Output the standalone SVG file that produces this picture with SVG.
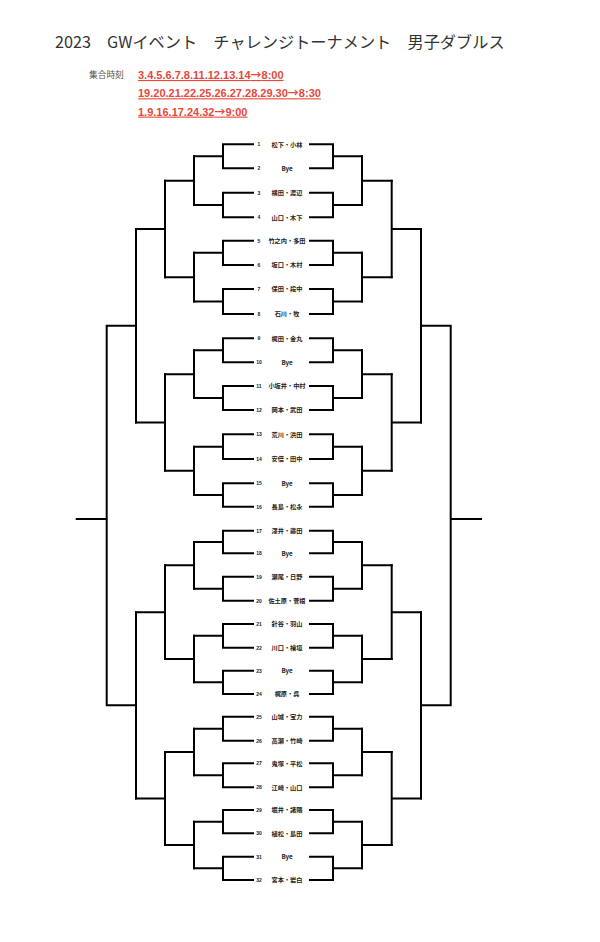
<svg xmlns="http://www.w3.org/2000/svg" width="600" height="942" viewBox="0 0 600 942">
<style>
.bg{fill:#fff}
.title{font-family:"Noto Sans CJK JP","Noto Sans",sans-serif;font-size:16.2px;fill:#333}
.lbl{font-family:"Noto Sans CJK JP","Noto Sans",sans-serif;font-size:8.7px;fill:#555}
.time{font-family:"Liberation Sans","Noto Sans CJK JP",sans-serif;font-size:11px;font-weight:700;fill:#e8473b;text-decoration:underline}
.arr{font-family:"Noto Sans CJK JP",sans-serif;font-weight:700}
.num{font-family:"Liberation Sans",sans-serif;font-size:5px;font-weight:700;fill:#222;text-anchor:middle}
.nm{font-family:"Noto Sans CJK JP","Liberation Sans",sans-serif;font-size:6.2px;font-weight:700;fill:#222;text-anchor:middle}
.ln{fill:none;stroke:#000;stroke-width:2;stroke-linejoin:miter;stroke-linecap:square}
</style>
<rect class="bg" x="0" y="0" width="600" height="942"/>
<g id="header">
<text class="title" x="55" y="48">2023　GWイベント　チャレンジトーナメント　男子ダブルス</text>
<text class="lbl" x="89" y="78">集合時刻</text>
<text class="time" x="138" y="79">3.4.5.6.7.8.11.12.13.14<tspan class="arr">→</tspan>8:00</text>
<text class="time" x="138" y="97.3">19.20.21.22.25.26.27.28.29.30<tspan class="arr">→</tspan>8:30</text>
<text class="time" x="138" y="115.6">1.9.16.17.24.32<tspan class="arr">→</tspan>9:00</text>
</g>
<g id="connectors" class="ln">
<path d="M253 144.3H223V168.3H253M223 156.3H194M253 192.7H223V217.3H253M223 205H194M253 240.7H223V265H253M223 252.8H194M253 289H223V314H253M223 301.5H194M253 338.3H223V362.3H253M223 350.3H194M253 386H223V410H253M223 398H194M253 434.3H223V459H253M223 446.7H194M253 483.3H223V506.7H253M223 495H194M253 530.7H223V553.3H253M223 542H194M253 576.7H223V600.7H253M223 588.7H194M253 624H223V647.7H253M223 635.8H194M253 670.7H223V694H253M223 682.3H194M253 716.7H223V740.7H253M223 728.7H194M253 763.3H223V787.3H253M223 775.3H194M253 810H223V833.3H253M223 821.7H194M253 856.7H223V880H253M223 868.3H194"/>
<path d="M194 156.3V205M194 180.7H165M194 252.8V301.5M194 277.2H165M194 350.3V398M194 374.2H165M194 446.7V495M194 470.8H165M194 542V588.7M194 565.3H165M194 635.8V682.3M194 659H165M194 728.7V775.3M194 752H165M194 821.7V868.3M194 845H165"/>
<path d="M165 180.7V277.2M165 228.9H136M165 374.2V470.8M165 422.5H136M165 565.3V659M165 612.2H136M165 752V845M165 798.5H136"/>
<path d="M136 228.9V422.5M136 325.7H106.7M136 612.2V798.5M136 705.3H106.7M106.7 325.7V705.3M106.7 519H76.7"/>
<path d="M310 144.3H333V168.3H310M333 156.3H362M310 192.7H333V217.3H310M333 205H362M310 240.7H333V265H310M333 252.8H362M310 289H333V314H310M333 301.5H362M310 338.3H333V362.3H310M333 350.3H362M310 386H333V410H310M333 398H362M310 434.3H333V459H310M333 446.7H362M310 483.3H333V506.7H310M333 495H362M310 530.7H333V553.3H310M333 542H362M310 576.7H333V600.7H310M333 588.7H362M310 624H333V647.7H310M333 635.8H362M310 670.7H333V694H310M333 682.3H362M310 716.7H333V740.7H310M333 728.7H362M310 763.3H333V787.3H310M333 775.3H362M310 810H333V833.3H310M333 821.7H362M310 856.7H333V880H310M333 868.3H362"/>
<path d="M362 156.3V205M362 180.7H391.7M362 252.8V301.5M362 277.2H391.7M362 350.3V398M362 374.2H391.7M362 446.7V495M362 470.8H391.7M362 542V588.7M362 565.3H391.7M362 635.8V682.3M362 659H391.7M362 728.7V775.3M362 752H391.7M362 821.7V868.3M362 845H391.7"/>
<path d="M391.7 180.7V277.2M391.7 228.9H421M391.7 374.2V470.8M391.7 422.5H421M391.7 565.3V659M391.7 612.2H421M391.7 752V845M391.7 798.5H421"/>
<path d="M421 228.9V422.5M421 325.7H450.7M421 612.2V798.5M421 705.3H450.7M450.7 325.7V705.3M450.7 519H481"/>
</g>
<g id="e1"><text class="num" x="259" y="146.3">1</text><text class="nm" x="287" y="146.5">松下・小林</text></g>
<g id="e2"><text class="num" x="259" y="170.3">2</text><text class="nm" x="287" y="170.5">Bye</text></g>
<g id="e3"><text class="num" x="259" y="194.7">3</text><text class="nm" x="287" y="194.9">横田・渡辺</text></g>
<g id="e4"><text class="num" x="259" y="219.3">4</text><text class="nm" x="287" y="219.5">山口・木下</text></g>
<g id="e5"><text class="num" x="259" y="242.7">5</text><text class="nm" x="287" y="242.9">竹之内・多田</text></g>
<g id="e6"><text class="num" x="259" y="267">6</text><text class="nm" x="287" y="267.2">坂口・木村</text></g>
<g id="e7"><text class="num" x="259" y="291">7</text><text class="nm" x="287" y="291.2">保田・段中</text></g>
<g id="e8"><text class="num" x="259" y="316">8</text><text class="nm" x="287" y="316.2">石川・牧</text></g>
<g id="e9"><text class="num" x="259" y="340.3">9</text><text class="nm" x="287" y="340.5">梶田・金丸</text></g>
<g id="e10"><text class="num" x="259" y="364.3">10</text><text class="nm" x="287" y="364.5">Bye</text></g>
<g id="e11"><text class="num" x="259" y="388">11</text><text class="nm" x="287" y="388.2">小坂井・中村</text></g>
<g id="e12"><text class="num" x="259" y="412">12</text><text class="nm" x="287" y="412.2">岡本・武田</text></g>
<g id="e13"><text class="num" x="259" y="436.3">13</text><text class="nm" x="287" y="436.5">荒川・浜田</text></g>
<g id="e14"><text class="num" x="259" y="461">14</text><text class="nm" x="287" y="461.2">安倍・田中</text></g>
<g id="e15"><text class="num" x="259" y="485.3">15</text><text class="nm" x="287" y="485.5">Bye</text></g>
<g id="e16"><text class="num" x="259" y="508.7">16</text><text class="nm" x="287" y="508.9">長島・松永</text></g>
<g id="e17"><text class="num" x="259" y="532.7">17</text><text class="nm" x="287" y="532.9">澤井・藤田</text></g>
<g id="e18"><text class="num" x="259" y="555.3">18</text><text class="nm" x="287" y="555.5">Bye</text></g>
<g id="e19"><text class="num" x="259" y="578.7">19</text><text class="nm" x="287" y="578.9">瀬尾・日野</text></g>
<g id="e20"><text class="num" x="259" y="602.7">20</text><text class="nm" x="287" y="602.9">佐土原・菅根</text></g>
<g id="e21"><text class="num" x="259" y="626">21</text><text class="nm" x="287" y="626.2">針谷・羽山</text></g>
<g id="e22"><text class="num" x="259" y="649.7">22</text><text class="nm" x="287" y="649.9">川口・檜垣</text></g>
<g id="e23"><text class="num" x="259" y="672.7">23</text><text class="nm" x="287" y="672.9">Bye</text></g>
<g id="e24"><text class="num" x="259" y="696">24</text><text class="nm" x="287" y="696.2">梶原・呉</text></g>
<g id="e25"><text class="num" x="259" y="718.7">25</text><text class="nm" x="287" y="718.9">山城・宝力</text></g>
<g id="e26"><text class="num" x="259" y="742.7">26</text><text class="nm" x="287" y="742.9">高瀬・竹崎</text></g>
<g id="e27"><text class="num" x="259" y="765.3">27</text><text class="nm" x="287" y="765.5">鬼塚・平松</text></g>
<g id="e28"><text class="num" x="259" y="789.3">28</text><text class="nm" x="287" y="789.5">江崎・山口</text></g>
<g id="e29"><text class="num" x="259" y="812">29</text><text class="nm" x="287" y="812.2">堀井・諸隈</text></g>
<g id="e30"><text class="num" x="259" y="835.3">30</text><text class="nm" x="287" y="835.5">植松・島田</text></g>
<g id="e31"><text class="num" x="259" y="858.7">31</text><text class="nm" x="287" y="858.9">Bye</text></g>
<g id="e32"><text class="num" x="259" y="882">32</text><text class="nm" x="287" y="882.2">宮本・岩白</text></g>
</svg>
